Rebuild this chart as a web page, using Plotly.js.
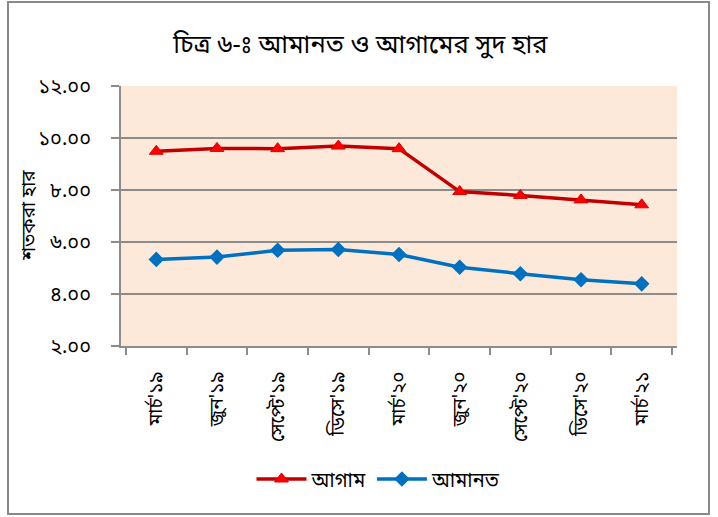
<!DOCTYPE html>
<html>
<head>
<meta charset="utf-8">
<script src="https://cdn.plot.ly/plotly-3.0.1.min.js"></script>
<style>body{margin:0;background:#fff}#chart{width:718px;height:517px}</style>
</head>
<body>
<div id="chart"></div>
<script>
var categories = ["মার্চ'১৯", "জুন'১৯", "সেপ্টে'১৯", "ডিসে'১৯", "মার্চ'২০", "জুন'২০", "সেপ্টে'২০", "ডিসে'২০", "মার্চ'২১"];
var agamValues = [9.49, 9.60, 9.59, 9.69, 9.59, 7.94, 7.79, 7.62, 7.43];
var amanatValues = [5.33, 5.42, 5.68, 5.71, 5.52, 5.03, 4.78, 4.55, 4.39];
var yTickValues = [2, 4, 6, 8, 10, 12];
var yTickLabels = ["২.০০", "৪.০০", "৬.০০", "৮.০০", "১০.০০", "১২.০০"];
var seriesNames = ["আগাম", "আমানত"];
var chartTitle = "চিত্র ৬-ঃ আমানত ও আগামের সুদ হার";
var yTitle = "শতকরা হার";

var FONT = "'Noto Sans Bengali', 'Noto Sans', 'Lohit Bengali', sans-serif";

var traces = [
  {x: categories, y: agamValues, name: seriesNames[0], type: 'scatter', mode: 'lines+markers',
   line: {color: '#C00000', width: 3.5},
   marker: {symbol: 'triangle-up', size: 12, color: '#FF0000', line: {color: '#E00000', width: 1}}},
  {x: categories, y: amanatValues, name: seriesNames[1], type: 'scatter', mode: 'lines+markers',
   line: {color: '#0070C0', width: 3.5},
   marker: {symbol: 'diamond', size: 12, color: '#0070C0'}}
];

var L = 121, R = 41, T = 86, B = 171;
var W = 718 - L - R, H = 517 - T - B;
function px(x){return (x - L)/W;}
function py(y){return (517 - B - y)/H;}

var layout = {
  width: 718, height: 517,
  margin: {l: L, r: R, t: T, b: B, pad: 0},
  paper_bgcolor: '#ffffff',
  plot_bgcolor: '#FDE9D9',
  font: {family: FONT, color: '#000000', size: 15},
  title: {text: chartTitle, font: {family: FONT, size: 25.5, color: '#000'},
          x: 0.502, xref: 'container', xanchor: 'center',
          y: 1 - 44/517, yref: 'container', yanchor: 'middle'},
  showlegend: true,
  legend: {orientation: 'h', x: px(379), xanchor: 'center', y: py(479), yanchor: 'middle',
           font: {family: FONT, size: 20, color: '#000'}, bgcolor: 'rgba(0,0,0,0)', traceorder: 'normal',
           itemwidth: 50},
  xaxis: {type: 'category', tickson: 'boundaries', ticks: 'outside', ticklen: 7, tickcolor: '#8C8C8C', tickwidth: 2,
          showline: true, linecolor: '#8C8C8C', linewidth: 2, showgrid: false, zeroline: false,
          tickangle: -90, tickfont: {family: FONT, size: 19, color: '#000'}, ticklabelstandoff: 16,
          fixedrange: true},
  yaxis: {range: [2, 12], tickvals: yTickValues, ticktext: yTickLabels, ticks: 'outside', ticklen: 8,
          tickcolor: '#8C8C8C', tickwidth: 2, showline: true, linecolor: '#8C8C8C', linewidth: 2,
          showgrid: true, gridcolor: '#8C8C8C', gridwidth: 1.5, zeroline: false,
          tickfont: {family: FONT, size: 20, color: '#000'}, ticklabelstandoff: 16,
          automargin: false, fixedrange: true},
  annotations: [
    {text: yTitle, xref: 'paper', yref: 'paper', x: px(30), y: py(216), xanchor: 'center', yanchor: 'middle',
     textangle: -90, showarrow: false, font: {family: FONT, size: 19, color: '#000'}}
  ],
  shapes: [
    {type: 'rect', xref: 'paper', yref: 'paper', x0: px(8), x1: px(709), y0: py(514), y1: py(2),
     line: {color: '#898989', width: 2}, fillcolor: 'rgba(0,0,0,0)', layer: 'above'}
  ]
};

Plotly.newPlot('chart', traces, layout, {displayModeBar: false, staticPlot: true});
</script>
</body>
</html>
